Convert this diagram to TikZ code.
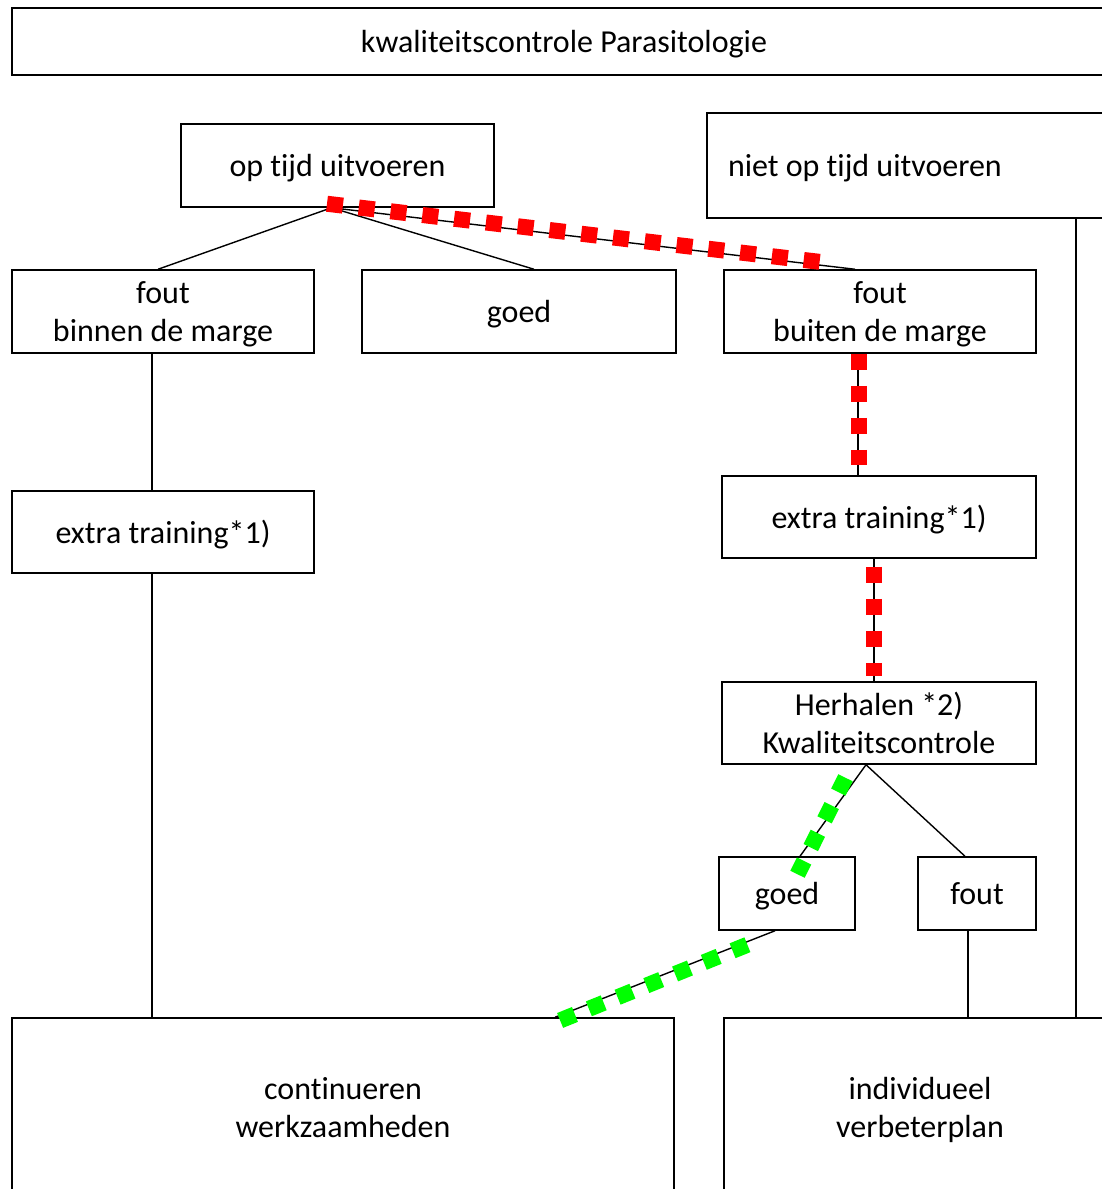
\documentclass[tikz,border=0pt]{standalone}
\usepackage{fontspec}
\setmainfont{Carlito}[Ligatures=NoCommon]
\begin{document}
\begin{tikzpicture}[x=1pt, y=-1pt,
        blok/.style={draw, line width=1.5pt, align=center, inner sep=0pt, text depth=0pt, font=\fontsize{32}{38}\selectfont},
        lijn/.style={line width=1.4pt},
        rood/.style={draw=red, line width=16pt, dash pattern=on 16pt off 16pt},
        groen/.style={draw=green, line width=16pt, dash pattern=on 16pt off 15pt}]
            \useasboundingbox (0,0) rectangle (1102,1189);

            \node[blok, minimum width=1104, minimum height=67] (titel) at (564,41.5) {kwaliteitscontrole Parasitologie};

            \node[blok, minimum width=313, minimum height=83] (optijd) at (337.5,165.5) {op tijd uitvoeren};
            \node[blok, minimum width=413, minimum height=105, text width=371, inner xsep=21, align=flush left] (nietoptijd) at (913.5,165.5) {niet op tijd uitvoeren};

            \node[blok, minimum width=302, minimum height=83] (foutbinnen) at (163,311.5) {fout\\binnen de marge};
            \node[blok, minimum width=314, minimum height=83] (goed) at (519,311.5) {goed};
            \node[blok, minimum width=312, minimum height=83] (foutbuiten) at (880,311.5) {fout\\buiten de marge};

            \node[blok, minimum width=302, minimum height=82] (trainL) at (163,532) {extra training*1)};
            \node[blok, minimum width=314, minimum height=82] (trainR) at (879,517) {extra training*1)};
            \node[blok, minimum width=314, minimum height=82] (herhalen) at (879,723) {Herhalen *2)\\Kwaliteitscontrole};

            \node[blok, minimum width=136, minimum height=73] (goed2) at (787,893.5) {goed};
            \node[blok, minimum width=118, minimum height=73] (fout2) at (977,893.5) {fout};

            \node[blok, minimum width=662, minimum height=178] (continueren) at (343,1107) {continueren\\werkzaamheden};
            \node[blok, minimum width=392, minimum height=178] (verbeter) at (920,1107) {individueel\\verbeterplan};

            \draw[lijn] ([xshift=-6]optijd.south) -- ([xshift=-5]foutbinnen.north);
            \draw[lijn] ([xshift=-6]optijd.south) -- ([xshift=15]goed.north);
            \draw[lijn] ([xshift=-6]optijd.south) -- ([xshift=-25]foutbuiten.north);

            \draw[lijn] ([xshift=-11]foutbinnen.south) -- ([xshift=-11]trainL.north);
            \draw[lijn] ([xshift=-11]trainL.south) -- ([xshift=-11]trainL.south |- continueren.north);

            \draw[lijn] ([xshift=-22]foutbuiten.south) -- ([xshift=-22]foutbuiten.south |- trainR.north);
            \draw[lijn] ([xshift=-5]trainR.south) -- ([xshift=-5]trainR.south |- herhalen.north);
            \draw[lijn] ([xshift=-13]herhalen.south) -- ([xshift=13]goed2.north);
            \draw[lijn] ([xshift=-13]herhalen.south) -- ([xshift=-12]fout2.north);
            \draw[lijn] ([xshift=-12]goed2.south) -- ([xshift=212]continueren.north);
            \draw[lijn] ([xshift=-9]fout2.south) -- ([xshift=-9]fout2.south |- verbeter.north);
            \draw[lijn] ([xshift=162.5]nietoptijd.south) -- ([xshift=162.5]nietoptijd.south |- verbeter.north);

            % gemarkeerde route
            \draw[rood] ([xshift=-10.5,yshift=4]optijd.south) -- ([xshift=-57,yshift=7]foutbuiten.north);
            \draw[rood, shorten >=10pt] ([xshift=-21.5]foutbuiten.south) -- ([xshift=-21.5]foutbuiten.south |- trainR.north);
            \draw[rood, shorten <=8pt, shorten >=5pt] ([xshift=-5]trainR.south) -- ([xshift=-5]trainR.south |- herhalen.north);
            \draw[groen] ([xshift=-33.5,yshift=-13]herhalen.south) -- ([xshift=10.5,yshift=-18]goed2.north);
            \draw[groen] ([xshift=-39.6,yshift=-14]goed2.south) -- ([xshift=212.6,yshift=-5]continueren.north);
        \end{tikzpicture}
\end{document}
